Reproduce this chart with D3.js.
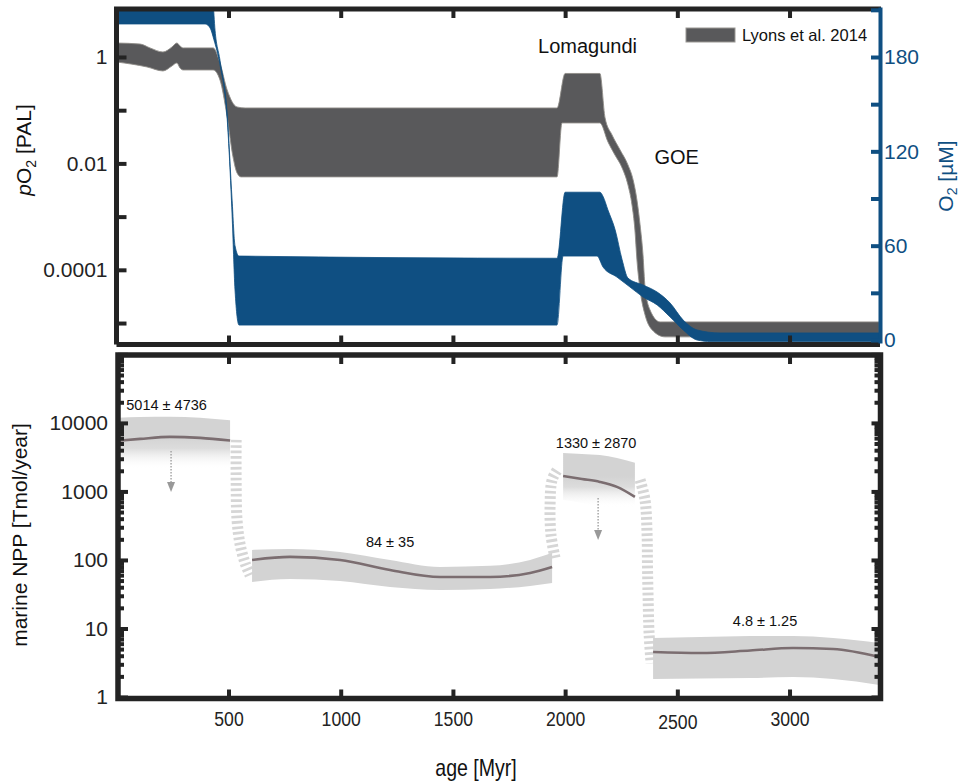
<!DOCTYPE html>
<html>
<head>
<meta charset="utf-8">
<script src="https://cdn.jsdelivr.net/npm/d3@7"></script>
<style>
  body { margin: 0; background: #fff; }
  svg { display: block; }
  text { font-family: "Liberation Sans", Arial, sans-serif; }
</style>
</head>
<body>
<svg id="chart" width="963" height="781"></svg>
<script>
// ---- top panel: atmospheric pO2 (Lyons et al. 2014), edges as [age Myr, PAL]
const lyonsHi = [[0,1.83],[106,1.75],[150,1.48],[208,1.24],[248,1.54],[270,1.83],[284,1.61],[298,1.48],[432,1.48],
  [462,0.77],[494,0.24],[538,0.115],[574,0.110],[1964,0.110],[2000,0.49],[2155,0.49],[2178,0.0715],[2209,0.0343],
  [2245,0.0179],[2280,0.00937],[2303,0.0049],[2320,0.00206],[2334,7.0e-4],[2347,1.91e-4],[2356,4.8e-5],
  [2378,1.77e-5],[2423,1.05e-5],[3400,1.05e-5]];
const lyonsLo = [[0,0.806],[137,0.649],[208,0.546],[248,0.678],[270,0.771],[284,0.62],[298,0.57],[432,0.57],
  [462,0.37],[494,0.0747],[520,0.0133],[538,0.00663],[556,0.00558],[1964,0.00558],[1986,0.0576],[2155,0.0576],
  [2191,0.0253],[2222,0.0144],[2254,0.00823],[2280,0.00395],[2298,0.00166],[2311,5.6e-4],[2320,1.54e-4],
  [2334,4.2e-5],[2356,1.43e-5],[2387,7.5e-6],[2445,5.5e-6],[3400,5.5e-6]];

// ---- top panel: ocean O2 band, edges as [age Myr, uM]
const o2Hi = [[0,220],[418,220],[431,214],[440,197],[462,178],[494,144],[516,89],[529,60],[547,53.4],[1964,52],
  [2000,94],[2155,94],[2170,91],[2190,83],[2223,70],[2254,51],[2280,39.4],[2347,35],[2410,30.5],[2468,23.5],
  [2526,12.7],[2588,6.4],[2690,4.5],[3400,4.5]];
const o2Lo = [[0,201],[396,201],[418,198.5],[435,191],[462,175],[494,141],[516,79.5],[529,31.8],[547,9.5],[1964,9.5],
  [1991,53.4],[2142,53.4],[2169,46.4],[2231,40],[2289,33.7],[2347,27.4],[2410,22.3],[2468,14.6],[2526,6.4],
  [2588,0],[2650,-1],[3400,-1]];

// ---- bottom panel: marine NPP segments [Tmol/year]
const seg1Age = [0, 106, 239, 374, 507];
const seg1Mean = [5460, 5840, 6250, 6040, 5520];
const seg1Hi = [11830, 12150, 12300, 11900, 10900];
const seg1Lo = [2000, 2100, 2200, 2150, 2000];

const seg2Age = [605, 774, 997, 1220, 1443, 1666, 1844, 1942];
const seg2Mean = [100, 111, 100, 71.4, 56.5, 56.5, 64.6, 79];
const seg2Hi = [140, 145, 131, 100, 79, 82, 100, 127];
const seg2Lo = [47.7, 52.8, 49.3, 40.3, 36.5, 37.7, 41.7, 46.1];

const seg3Age = [1991, 2075, 2155, 2231, 2311];
const seg3Mean = [1683, 1520, 1376, 1164, 832];
const seg3Hi = [3650, 3530, 3410, 3080, 2610];
const seg3Lo = [750, 680, 590, 500, 384];

const seg4Age = [2392, 2602, 2825, 3016, 3194, 3400];
const seg4Mean = [4.54, 4.39, 4.77, 5.19, 5.02, 3.84];
const seg4Hi = [7.27, 7.51, 7.77, 7.77, 7.27, 6.14];
const seg4Lo = [1.83, 1.86, 1.89, 1.96, 1.83, 1.50];

const segLabels = ['5014 \u00b1 4736', '84 \u00b1 35', '1330 \u00b1 2870', '4.8 \u00b1 1.25'];
const segLabelAt = [[224, 15500], [1220, 155], [2138, 4315], [2891, 10.9]];

// transitions between segments (dashed), [age, NPP]
const trans1 = [[534,5650],[534,1470],[538,384],[552,166],[574,90],[596,60]];
const trans2 = [[1955,107],[1937,232],[1933,635],[1942,1472],[1968,2130]];
const trans3 = [[2334,1470],[2356,750],[2365,248],[2367,79],[2370,26],[2374,8.6],[2383,3.1]];

// downward arrows: age, start, tip
const arrowAge = [244, 2147];
const arrowFrom = [3900, 804];
const arrowTo = [984, 196];

const ageTicks = [500, 1000, 1500, 2000, 2500, 3000];
const palTicks = [1e-5, 1e-4, 1e-3, 1e-2, 1e-1, 1];
const palTickLabels = {1: '1', 0.01: '0.01', 0.0001: '0.0001'};
const o2Ticks = [0, 30, 60, 90, 120, 150, 180, 210];
const o2TickLabels = [0, 60, 120, 180];
const nppTicks = [1, 10, 100, 1000, 10000, 100000];
const nppTickLabels = ['1', '10', '100', '1000', '10000'];

const BLUE = '#0f4f82', GREY = '#59595b', BAND = '#d3d3d3', MEAN = '#7b6d70', INK = '#232323';

const svg = d3.select('#chart');
const x = d3.scaleLinear().domain([0, 3400]).range([116.3, 879.3]);
const yPal = d3.scaleLog().domain([Math.pow(10, -5.375), Math.pow(10, 0.939)]).range([343, 7]);
const yO2 = d3.scaleLinear().domain([-1.9, 211.8]).range([343, 7]);
const yNpp = d3.scaleLog().domain([1, Math.pow(10, 5.02)]).range([697, 353]);

const defs = svg.append('defs');
defs.append('clipPath').attr('id', 'clipTop').append('rect')
  .attr('x', 117).attr('y', 9).attr('width', 763).attr('height', 335);
defs.append('clipPath').attr('id', 'clipBot').append('rect')
  .attr('x', 118).attr('y', 355).attr('width', 762).attr('height', 343);

function bandPath(hi, lo, y) {
  const line = d3.line().x(d => x(d[0])).y(d => y(d[1])).curve(d3.curveMonotoneX);
  return line(hi) + 'L' + line(lo.slice().reverse()).slice(1) + 'Z';
}

// ================= TOP PANEL =================
const topG = svg.append('g').attr('clip-path', 'url(#clipTop)');
topG.append('path').attr('d', bandPath(lyonsHi, lyonsLo, yPal))
  .attr('fill', GREY).attr('stroke', '#8f8c88').attr('stroke-width', 0.9);
topG.append('path').attr('d', bandPath(o2Hi, o2Lo, yO2))
  .attr('fill', BLUE).attr('stroke', BLUE).attr('stroke-width', 0.8);

// frame
svg.append('path').attr('d', 'M116.5,344.5V9H881').attr('fill', 'none').attr('stroke', INK).attr('stroke-width', 5);
svg.append('line').attr('x1', 116.5).attr('x2', 880).attr('y1', 344.5).attr('y2', 344.5).attr('stroke', INK).attr('stroke-width', 5);

// left log axis
const aPal = svg.append('g').attr('transform', 'translate(116.5,0)')
  .call(d3.axisLeft(yPal).tickValues(palTicks).tickSize(-10).tickPadding(9)
    .tickFormat(d => palTickLabels[d] || ''));
// top / bottom age ticks
const aTopT = svg.append('g').attr('transform', 'translate(0,9)')
  .call(d3.axisTop(x).tickValues(ageTicks).tickSize(-9).tickFormat(''));
const aTopB = svg.append('g').attr('transform', 'translate(0,344.5)')
  .call(d3.axisBottom(x).tickValues(ageTicks).tickSize(-9).tickFormat(''));
// right O2 axis
const aO2 = svg.append('g').attr('transform', 'translate(880,0)')
  .call(d3.axisRight(yO2).tickValues(o2Ticks).tickSize(-9).tickSizeOuter(0).tickPadding(4)
    .tickFormat(d => o2TickLabels.includes(d) ? d : ''));

[aPal, aTopT, aTopB].forEach(g => {
  g.select('.domain').remove();
  g.selectAll('.tick line').attr('stroke', INK).attr('stroke-width', 4);
  g.selectAll('.tick text').attr('font-size', 21).attr('fill', INK)
    .style('font-family', '"Liberation Sans", Arial, sans-serif');
});
aO2.select('.domain').attr('stroke', BLUE).attr('stroke-width', 4);
aO2.selectAll('.tick line').attr('stroke', BLUE).attr('stroke-width', 4);
aO2.selectAll('.tick text').attr('font-size', 21).attr('fill', BLUE)
  .style('font-family', '"Liberation Sans", Arial, sans-serif');

// axis titles
const t1 = svg.append('text').attr('transform', 'translate(31,150) rotate(-90)')
  .attr('text-anchor', 'middle').attr('font-size', 21).attr('fill', '#111');
t1.append('tspan').attr('font-style', 'italic').text('p');
t1.append('tspan').text('O');
t1.append('tspan').attr('font-size', 14).attr('dy', 5).text('2');
t1.append('tspan').attr('dy', -5).text(' [PAL]');

const t2 = svg.append('text').attr('transform', 'translate(953,176) rotate(-90)')
  .attr('text-anchor', 'middle').attr('font-size', 21).attr('fill', BLUE);
t2.append('tspan').text('O');
t2.append('tspan').attr('font-size', 14).attr('dy', 4).text('2');
t2.append('tspan').attr('dy', -4).text(' [\u00b5M]');

// annotations
svg.append('text').attr('x', x(2100)).attr('y', yPal(1.19)).attr('text-anchor', 'middle')
  .attr('font-size', 20).attr('fill', '#111').text('Lomagundi');
svg.append('text').attr('x', x(2497)).attr('y', yPal(0.0098)).attr('text-anchor', 'middle')
  .attr('font-size', 20).attr('fill', '#111').text('GOE');

// legend
svg.append('rect').attr('x', 686).attr('y', 28).attr('width', 49).attr('height', 14)
  .attr('fill', GREY).attr('stroke', '#9a9894').attr('stroke-width', 1);
svg.append('text').attr('x', 742).attr('y', 41).attr('font-size', 16.5).attr('fill', '#111')
  .text('Lyons et al. 2014');

// ================= BOTTOM PANEL =================
const botG = svg.append('g').attr('clip-path', 'url(#clipBot)');

const transLine = d3.line().x(d => x(d[0])).y(d => yNpp(d[1])).curve(d3.curveCatmullRom);
[trans1, trans2, trans3].forEach(t => {
  botG.append('path').attr('d', transLine(t)).attr('fill', 'none')
    .attr('stroke', '#d6d6d6').attr('stroke-width', 11).attr('stroke-dasharray', '2.7,2.7');
});

const segments = [
  {age: seg1Age, mean: seg1Mean, hi: seg1Hi, lo: seg1Lo, fade: true},
  {age: seg2Age, mean: seg2Mean, hi: seg2Hi, lo: seg2Lo, fade: false},
  {age: seg3Age, mean: seg3Mean, hi: seg3Hi, lo: seg3Lo, fade: true},
  {age: seg4Age, mean: seg4Mean, hi: seg4Hi, lo: seg4Lo, fade: false}
];

segments.forEach((s, i) => {
  const rows = s.age.map((a, j) => ({a, m: s.mean[j], h: s.hi[j], l: s.lo[j]}));
  let fill = BAND;
  if (s.fade) {
    const gid = 'fade' + i;
    const g = defs.append('linearGradient').attr('id', gid).attr('gradientUnits', 'userSpaceOnUse')
      .attr('x1', 0).attr('x2', 0)
      .attr('y1', yNpp(d3.max(s.mean))).attr('y2', yNpp(d3.mean(s.lo)));
    g.append('stop').attr('offset', 0).attr('stop-color', BAND);
    g.append('stop').attr('offset', 0.35).attr('stop-color', '#dcdcdc');
    g.append('stop').attr('offset', 1).attr('stop-color', '#ffffff').attr('stop-opacity', 0);
    fill = 'url(#' + gid + ')';
  }
  botG.append('path').datum(rows)
    .attr('d', d3.area().x(d => x(d.a)).y0(d => yNpp(d.l)).y1(d => yNpp(d.h)).curve(d3.curveMonotoneX))
    .attr('fill', fill);
  botG.append('path').datum(rows)
    .attr('d', d3.line().x(d => x(d.a)).y(d => yNpp(d.m)).curve(d3.curveMonotoneX))
    .attr('fill', 'none').attr('stroke', MEAN).attr('stroke-width', 2.6);
  svg.append('text').attr('x', x(segLabelAt[i][0])).attr('y', yNpp(segLabelAt[i][1]))
    .attr('text-anchor', 'middle').attr('font-size', 14.5).attr('fill', '#111').text(segLabels[i]);
});

// arrows
arrowAge.forEach((a, i) => {
  const ax = x(a), y0 = yNpp(arrowFrom[i]), y1 = yNpp(arrowTo[i]);
  botG.append('line').attr('x1', ax).attr('x2', ax).attr('y1', y0).attr('y2', y1 - 9)
    .attr('stroke', '#999').attr('stroke-width', 1.3).attr('stroke-dasharray', '1.5,1.5');
  botG.append('path').attr('d', `M${ax - 4},${y1 - 10}L${ax + 4},${y1 - 10}L${ax},${y1}Z`).attr('fill', '#999');
});

// frame
svg.append('rect').attr('x', 118).attr('y', 355).attr('width', 762.5).attr('height', 343.5)
  .attr('fill', 'none').attr('stroke', INK).attr('stroke-width', 5.5);

const nppMinor = [];
nppTicks.slice(0, -1).forEach(d => { for (let k = 2; k < 10; k++) nppMinor.push(d * k); });

const aNpp = svg.append('g').attr('transform', 'translate(118,0)')
  .call(d3.axisLeft(yNpp).tickValues(nppTicks).tickSize(-10).tickPadding(10)
    .tickFormat(d => nppTickLabels[Math.round(Math.log10(d))] || ''));
const aNppMin = svg.append('g').attr('transform', 'translate(118,0)')
  .call(d3.axisLeft(yNpp).tickValues(nppMinor).tickSize(-6).tickFormat(''));
const aNppR = svg.append('g').attr('transform', 'translate(880.5,0)')
  .call(d3.axisRight(yNpp).tickValues(nppTicks).tickSize(-9).tickFormat(''));
const aNppRMin = svg.append('g').attr('transform', 'translate(880.5,0)')
  .call(d3.axisRight(yNpp).tickValues(nppMinor).tickSize(-6).tickFormat(''));
const aAgeT = svg.append('g').attr('transform', 'translate(0,355)')
  .call(d3.axisTop(x).tickValues(ageTicks).tickSize(-9).tickFormat(''));
const aAge = svg.append('g').attr('transform', 'translate(0,698.5)')
  .call(d3.axisBottom(x).tickValues(ageTicks).tickSize(-9).tickPadding(12.5).tickFormat(d3.format('d')));

[aNpp, aNppMin, aNppR, aNppRMin, aAgeT, aAge].forEach(g => {
  g.select('.domain').remove();
  g.selectAll('.tick line').attr('stroke', INK).attr('stroke-width', 4);
});
aNpp.selectAll('.tick text').attr('font-size', 21).attr('fill', INK)
  .style('font-family', '"Liberation Sans", Arial, sans-serif');
// narrow, tall tick labels as in the original export
aAge.selectAll('.tick text').attr('font-size', 20.5).attr('fill', INK)
  .attr('transform', 'scale(0.86,1)')
  .attr('dy', d => d === 2500 ? '0.9em' : '0.71em');

svg.append('text').attr('transform', 'translate(27,535) rotate(-90)')
  .attr('text-anchor', 'middle').attr('font-size', 21).attr('fill', '#111')
  .text('marine NPP [Tmol/year]');
svg.append('text').attr('transform', 'translate(476,776) scale(0.85,1)').attr('text-anchor', 'middle')
  .attr('font-size', 23).attr('fill', '#111')
  .text('age [Myr]');
</script>
</body>
</html>
